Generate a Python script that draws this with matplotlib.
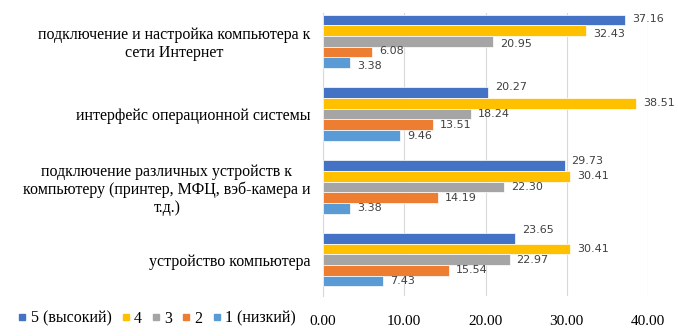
import matplotlib.pyplot as plt
from matplotlib.lines import Line2D
import numpy as np

categories = [
    'подключение и настройка компьютера к\nсети Интернет',
    'интерфейс операционной системы',
    'подключение различных устройств к\nкомпьютеру (принтер, МФЦ, вэб-камера и\nт.д.)',
    'устройство компьютера',
]
series_names = ['5 (высокий)', '4', '3', '2', '1 (низкий)']
score_5 = [37.16, 20.27, 29.73, 23.65]
score_4 = [32.43, 38.51, 30.41, 30.41]
score_3 = [20.95, 18.24, 22.30, 22.97]
score_2 = [6.08, 13.51, 14.19, 15.54]
score_1 = [3.38, 9.46, 3.38, 7.43]
colors = ['#4472C4', '#FFC000', '#A5A5A5', '#ED7D31', '#5B9BD5']

# vertical nudges of the value labels (pixels, + = down), as Excel placed them
label_dy = [
    [-1, -6, -4, -8],
    [3, 0, 0, 0],
    [3, 0, 0, 0],
    [-1, 0, 0, 0],
    [3, 0, 0, 0],
]

serif = ['Liberation Serif', 'DejaVu Serif']
label_font = ['DejaVu Sans']

fig = plt.figure(figsize=(6.78, 3.36), dpi=100)
ax = fig.add_axes([323 / 678, 1 - 296 / 336, (648 - 323) / 678, (296 - 13) / 336])

series = [score_5, score_4, score_3, score_2, score_1]
y = np.arange(len(categories))
h = 0.147
for i, (name, vals, c) in enumerate(zip(series_names, series, colors)):
    pos = y - 2 * h + i * h
    ax.barh(pos, vals, height=h, color=c, edgecolor='white', linewidth=0.5, zorder=3)
    for j, (p, v) in enumerate(zip(pos, vals)):
        ax.annotate(f'{v:.2f}', (v, p), xytext=(5, -label_dy[i][j] * 0.72),
                    textcoords='offset points', va='center', ha='left',
                    fontsize=8, color='#404040', family=label_font)

ax.set_xlim(0, 40)
ax.set_ylim(3.5, -0.39)
ax.set_xticks([0, 10, 20, 30, 40])
ax.set_xticklabels([f'{t:.2f}' for t in [0, 10, 20, 30, 40]], family=serif, fontsize=11)
ax.set_yticks(y)
ax.set_yticklabels(categories, family=serif, fontsize=11.5, multialignment='center',
                   linespacing=1.15)
ax.tick_params(axis='y', length=0, pad=9)
ax.tick_params(axis='x', length=0, pad=14)
ax.grid(axis='x', color='#D9D9D9', linewidth=0.8, zorder=0)
for s in ['top', 'right', 'bottom']:
    ax.spines[s].set_visible(False)
ax.spines['left'].set_color('#D9D9D9')
ax.spines['left'].set_linewidth(0.8)

handles = [Line2D([], [], marker='s', linestyle='', markersize=4, color=c) for c in colors]
fig.legend(handles, series_names, loc='center left', bbox_to_anchor=(0.029, 0.052),
           ncol=5, frameon=False, prop={'family': serif, 'size': 11.5},
           handlelength=0.35, handletextpad=0.35, columnspacing=0.7, borderaxespad=0,
           borderpad=0)

fig.savefig('out.png', dpi=100)
